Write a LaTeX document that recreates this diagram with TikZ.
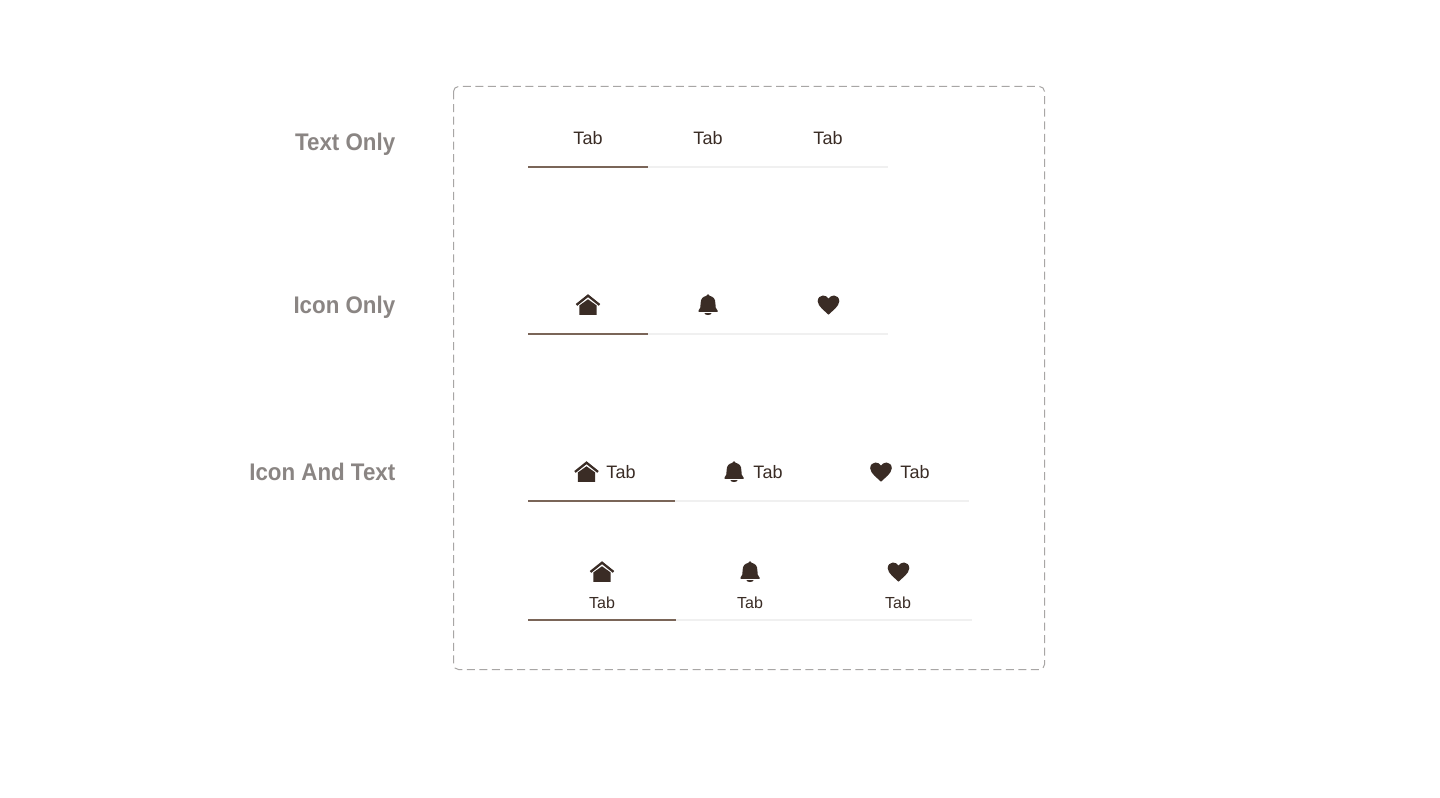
\documentclass[tikz,border=0pt]{standalone}
\usepackage{fontspec}
\setmainfont{Liberation Sans}
\newfontfamily\labelfont[FakeStretch=0.93]{Liberation Sans}
\definecolor{ink}{HTML}{3A2C25}
\definecolor{lab}{HTML}{8A8583}
\definecolor{act}{HTML}{7A6558}
\definecolor{idle}{HTML}{F0F0F0}
\definecolor{frm}{HTML}{A8A6A5}
\tikzset{
  x=0.75pt,y=-0.75pt,
  sidelabel/.style={anchor=base east,inner sep=0pt,text=lab,font=\fontsize{18}{18}\selectfont\labelfont\bfseries},
  tabtext/.style={inner sep=0pt,text=ink,font=\fontsize{13.5}{14}\selectfont},
  tabsmall/.style={inner sep=0pt,text=ink,font=\fontsize{12}{13}\selectfont},
  activeline/.style={draw=act,line width=1.5pt},
  idleline/.style={draw=idle,line width=1.9pt},
  homeicon/.pic={
    \fill[ink] (-8.7,10.5) -- (-8.7,1) -- (0,-5.2) -- (8.7,1) -- (8.7,10.5) -- cycle;
    \draw[ink,line width=1.7pt,miter limit=10] (-11.5,0.4) -- (0,-8.8) -- (11.5,0.4);
  },
  bellicon/.pic={
    \fill[ink] (-9.5,7.3) -- (-9.5,6) .. controls (-7.6,4.8) and (-7.4,2) .. (-7.4,-1)
      .. controls (-7.4,-6) and (-5,-7.8) .. (-1.8,-8.6)
      .. controls (-1.5,-10.8) and (1.5,-10.8) .. (1.8,-8.6)
      .. controls (5,-7.8) and (7.4,-6) .. (7.4,-1)
      .. controls (7.4,2) and (7.6,4.8) .. (9.5,6) -- (9.5,7.3) -- cycle;
    \fill[ink] (-3.6,8.6) -- (3.6,8.6) .. controls (3,11.2) and (-3,11.2) .. (-3.6,8.6) -- cycle;
  },
  hearticon/.pic={
    \fill[ink] (0,9.7) .. controls (-3,6.5) and (-10.8,1.5) .. (-10.8,-3.8)
      .. controls (-10.8,-7.2) and (-8.2,-9.5) .. (-5.6,-9.5)
      .. controls (-3.4,-9.5) and (-1.2,-8.3) .. (0,-6.4)
      .. controls (1.2,-8.3) and (3.4,-9.5) .. (5.6,-9.5)
      .. controls (8.2,-9.5) and (10.8,-7.2) .. (10.8,-3.8)
      .. controls (10.8,1.5) and (3,6.5) .. (0,9.7) -- cycle;
  },
}
\begin{document}
\begin{tikzpicture}
\useasboundingbox[fill=white] (0,0) rectangle (1440,798);
% frame
\draw[frm,line width=0.75pt,dash pattern=on 6pt off 3.4pt,rounded corners=3.75pt] (453.5,86.5) rectangle (1044.5,669.5);
% side labels
\node[sidelabel] (l1) at (395.5,150.5) {Text Only};
\node[sidelabel] (l2) at (395.5,313.5) {Icon Only};
\node[sidelabel] (l3) at (395.5,480.5) {Icon And Text};
% row 1
\node[tabtext] (r1a) at (588,138) {Tab};
\node[tabtext] (r1b) at (708,138) {Tab};
\node[tabtext] (r1c) at (828,138) {Tab};
\coordinate (r1s) at (528,167); \coordinate (r1m) at (648,167); \coordinate (r1e) at (888,167);
\draw[idleline] (r1m) -- (r1e);
\draw[activeline] (r1s) -- (r1m);
% row 2
\pic at (588,304.5) {homeicon};
\pic at (708,304.5) {bellicon};
\pic at (828.5,305) {hearticon};
\coordinate (r2s) at (528,334); \coordinate (r2m) at (648,334); \coordinate (r2e) at (888,334);
\draw[idleline] (r2m) -- (r2e);
\draw[activeline] (r2s) -- (r2m);
% row 3
\pic at (586.5,471.5) {homeicon};
\pic at (734,471.5) {bellicon};
\pic at (881,472) {hearticon};
\node[tabtext] (r3a) at (621,472) {Tab};
\node[tabtext] (r3b) at (768,472) {Tab};
\node[tabtext] (r3c) at (915,472) {Tab};
\coordinate (r3s) at (528,501); \coordinate (r3m) at (675,501); \coordinate (r3e) at (969,501);
\draw[idleline] (r3m) -- (r3e);
\draw[activeline] (r3s) -- (r3m);
% row 4
\pic at (602,571.5) {homeicon};
\pic at (750,571.5) {bellicon};
\pic at (898.5,572) {hearticon};
\node[tabsmall] (r4a) at (602,602.5) {Tab};
\node[tabsmall] (r4b) at (750,602.5) {Tab};
\node[tabsmall] (r4c) at (898,602.5) {Tab};
\coordinate (r4s) at (528,620); \coordinate (r4m) at (676,620); \coordinate (r4e) at (972,620);
\draw[idleline] (r4m) -- (r4e);
\draw[activeline] (r4s) -- (r4m);
\end{tikzpicture}
\end{document}
